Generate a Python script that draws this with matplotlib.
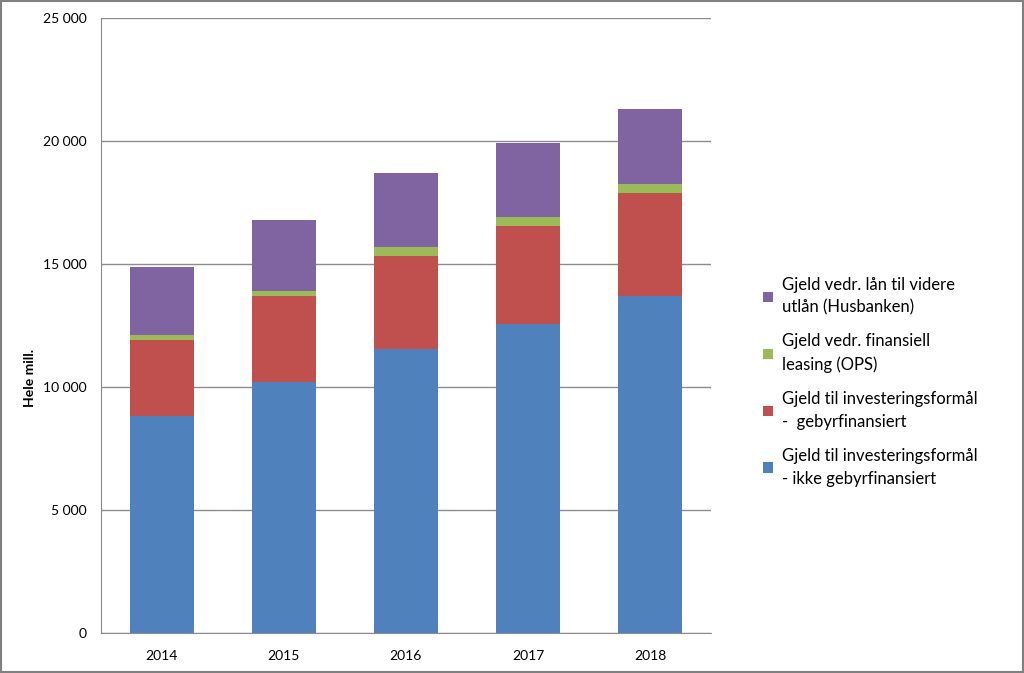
import numpy as np
import matplotlib.pyplot as plt
from matplotlib.patches import Rectangle

plt.rcParams['font.family'] = ['Lato', 'DejaVu Sans']

years = ['2014', '2015', '2016', '2017', '2018']
ikke_gebyr = [8830, 10220, 11560, 12550, 13710]
gebyr = [3070, 3490, 3780, 3990, 4180]
leasing = [200, 180, 360, 360, 360]
husbanken = [2770, 2900, 2990, 3020, 3050]

series = [
    (ikke_gebyr, '#4F81BD', 'Gjeld til investeringsformål\n- ikke gebyrfinansiert'),
    (gebyr, '#C0504D', 'Gjeld til investeringsformål\n-  gebyrfinansiert'),
    (leasing, '#9BBB59', 'Gjeld vedr. finansiell\nleasing (OPS)'),
    (husbanken, '#8064A2', 'Gjeld vedr. lån til videre\nutlån (Husbanken)'),
]

fig = plt.figure(figsize=(10.24, 6.73), dpi=100)
ax = fig.add_axes([0.0986, 0.0594, 0.5957, 0.9139])

x = np.arange(len(years))
bottom = np.zeros(len(years))
handles = []
for vals, col, lab in series:
    b = ax.bar(x, vals, 0.52, bottom=bottom, color=col, label=lab, zorder=3)
    bottom += np.array(vals)
    handles.append(b)

ax.set_xlim(-0.5, len(years) - 0.5)
ax.set_ylim(0, 25000)
ax.set_yticks(range(0, 25001, 5000))
ax.set_yticklabels([f'{v:,}'.replace(',', ' ') for v in range(0, 25001, 5000)], fontsize=10)
ax.set_xticks(x)
ax.set_xticklabels(years, fontsize=10)
ax.tick_params(length=0, pad=10)
ax.tick_params(axis='x', pad=12)
ax.grid(axis='y', color='#8c8c8c', linewidth=1, zorder=0)
for s in ['top', 'right']:
    ax.spines[s].set_visible(False)
ax.spines['left'].set_color('#8c8c8c')
ax.spines['bottom'].set_color('#8c8c8c')

# y-akse tittel
fig.text(30 / 1024, 1 - 378 / 673, 'Hele mill.', rotation=90, fontsize=10,
         fontweight='bold', ha='center', va='center')

leg = fig.legend(handles[::-1], [s[2] for s in series][::-1], loc='center left',
                 bbox_to_anchor=(0.73, 0.433), frameon=False, fontsize=12,
                 handlelength=0.6, handleheight=0.6, handletextpad=0.55,
                 labelspacing=1.05)
for t in leg.get_texts():
    t.set_linespacing(1.55)

fig.patches.append(Rectangle((0.001, 0.001), 0.998, 0.998, transform=fig.transFigure,
                             fill=False, edgecolor='#808080', linewidth=1.5))

fig.savefig('out.png', dpi=100)
